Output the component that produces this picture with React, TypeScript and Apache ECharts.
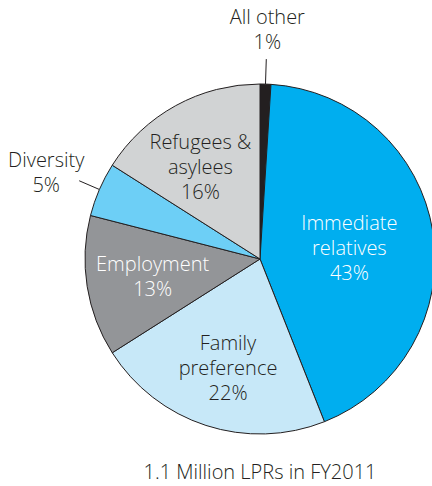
import React, { useEffect, useRef } from "react";
import * as echarts from "echarts";

const categories = ["All other", "Immediate relatives", "Family preference", "Employment", "Diversity", "Refugees & asylees"];
const labelTexts = ["All other", "Immediate\nrelatives", "Family\npreference", "Employment", "Diversity", "Refugees &\nasylees"];
const values = [1, 43, 22, 13, 5, 16];
const colors = ["#231F20", "#00AEEF", "#C7E8F8", "#939598", "#6DCFF6", "#D1D3D4"];
const textColors = ["#231F20", "#FFFFFF", "#231F20", "#FFFFFF", "#231F20", "#231F20"];
const title = "1.1 Million LPRs in FY2011";

const FONT = "'Open Sans', 'Noto Sans', sans-serif";
const FS = 20;
const FW = 300;

export default function App() {
  const ref = useRef<HTMLDivElement>(null);
  useEffect(() => {
    if (!ref.current) return;
    const chart = echarts.init(ref.current, null, { renderer: "svg" });
    const layouts: any[] = [
      { position: "outside", offset: [-49, -30], line: { length: 25, length2: 0 } },
      { position: "inside", offset: [0, 3] },
      { position: "inside", offset: [-4, 22] },
      { position: "inside", offset: [-18, 3] },
      { position: "outside", offset: [17, -9], line: { length: 22, length2: 0 } },
      { position: "inside", offset: [-16, -13] },
    ];
    const data = categories.map((name, i) => {
      const l = layouts[i];
      const lines = (labelTexts[i] + "\n" + values[i] + "%").split("\n");
      const item: any = {
        name,
        value: values[i],
        itemStyle: { color: colors[i] },
        label: {
          show: true,
          position: l.position,
          offset: l.offset,
          color: textColors[i],
          formatter: () => lines.map((s) => "{t|" + s + "}").join("\n"),
          align: "center",
          rich: {
            t: {
              width: 90,
              align: "center",
              fontFamily: FONT,
              fontSize: FS,
              fontWeight: FW,
              lineHeight: 25,
              color: textColors[i],
            },
          },
        },
      };
      if (l.line) {
        item.labelLine = {
          show: true,
          length: l.line.length,
          length2: l.line.length2,
          smooth: false,
          lineStyle: { color: "#231F20", width: 1 },
        };
      } else {
        item.labelLine = { show: false };
      }
      return item;
    });
    chart.setOption({
      animation: false,
      backgroundColor: "#FFFFFF",
      title: {
        text: title,
        left: 255,
        textAlign: "center",
        top: 456,
        textStyle: { fontFamily: FONT, fontSize: FS, fontWeight: FW, color: "#231F20" },
      },
      series: [
        {
          type: "pie",
          center: [260, 259],
          radius: [0, 175],
          startAngle: 90,
          clockwise: true,
          avoidLabelOverlap: false,
          minShowLabelAngle: 0,
          itemStyle: { borderColor: "#231F20", borderWidth: 1 },
          emphasis: { disabled: true },
          label: {
            fontFamily: FONT,
            fontSize: FS,
            fontWeight: FW,
            lineHeight: 25,
            align: "center",
          },
          data,
        },
      ],
    });
    return () => chart.dispose();
  }, []);
  return <div ref={ref} style={{ width: 432, height: 486, position: "absolute", left: 0, top: 0 }} />;
}
